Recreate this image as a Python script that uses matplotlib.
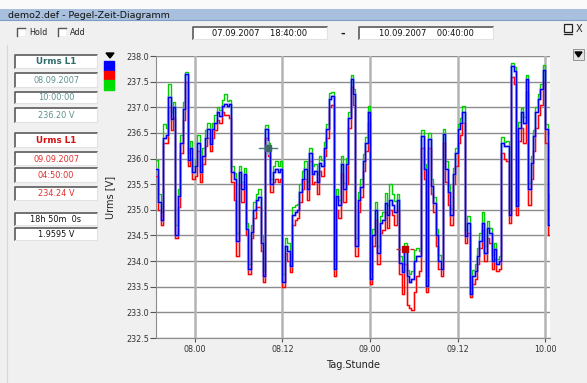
import datetime as dt
import numpy as np
import matplotlib
matplotlib.use("Agg")
import matplotlib.pyplot as plt
import matplotlib.dates as mdates
from matplotlib.patches import Rectangle, Polygon

# 20-minute samples from 07.09.2007 18:40 to 10.09.2007 00:40
start = dt.datetime(2007, 9, 7, 18, 40)
step = dt.timedelta(minutes=20)

urms_mean = [
    235.8, 235.15, 234.8, 236.4, 236.45, 237.2, 236.77, 237.0, 234.5, 235.27,
    236.3, 236.96, 237.64, 235.98, 236.2, 235.73, 235.86, 236.3, 235.73, 236.05,
    236.4, 236.57, 236.28, 236.57, 236.7, 236.9, 236.83, 237.03, 237.06, 237.03,
    237.06, 235.73, 235.6, 234.4, 235.73, 235.4, 235.7, 234.62, 233.84, 234.56,
    235.0, 235.2, 235.25, 234.36, 233.7, 236.57, 236.2, 235.5, 235.73, 235.8,
    235.73, 235.8, 233.6, 234.3, 234.2, 233.9, 234.9, 234.95, 235.0, 235.34,
    235.6, 235.8, 235.4, 236.1, 235.7, 235.75, 235.55, 235.92, 235.86, 236.2,
    236.57, 237.16, 237.22, 233.84, 235.27, 235.1, 235.9, 235.4, 235.9, 236.8,
    237.55, 237.25, 234.3, 235.2, 235.45, 235.95, 236.3, 236.9, 233.65, 234.5,
    235.0, 234.16, 234.75, 234.8, 235.14, 234.9, 235.2, 235.1, 234.95, 235.2,
    233.97, 233.78, 234.24, 233.7, 233.6, 233.65, 234.0, 234.1, 234.1, 236.44,
    235.8, 233.52, 236.38, 235.47, 235.14, 234.5, 234.0, 233.85, 236.47, 235.8,
    235.34, 234.9, 235.7, 236.1, 236.57, 236.7, 236.9, 234.49, 234.75, 233.35,
    233.7, 233.8, 234.1, 234.4, 234.75, 234.16, 234.65, 234.55, 234.0, 234.24,
    233.95, 234.0, 236.31, 236.25, 236.25, 234.9, 237.8, 237.7, 235.08, 236.6,
    236.9, 236.7, 237.55, 235.4, 235.92, 236.43, 236.9, 237.16, 237.35, 237.73,
    236.57, 234.7, 235.3]

urms_max = [
    235.97, 235.3, 234.95, 236.67, 236.6, 237.45, 236.9, 237.1, 234.7, 235.4,
    236.45, 237.1, 237.68, 236.1, 236.35, 235.85, 236.0, 236.45, 235.85, 236.2,
    236.55, 236.7, 236.4, 236.7, 236.85, 237.0, 236.95, 237.15, 237.25, 237.12,
    237.15, 235.85, 235.72, 234.55, 235.85, 235.55, 235.82, 234.75, 233.95, 234.7,
    235.15, 235.3, 235.4, 234.5, 233.82, 236.65, 236.3, 235.6, 235.85, 235.95,
    235.85, 235.95, 233.75, 234.45, 234.35, 234.02, 235.05, 235.1, 235.12, 235.5,
    235.75, 235.95, 235.55, 236.2, 235.85, 235.9, 235.7, 236.05, 235.98, 236.32,
    236.68, 237.28, 237.3, 234.05, 235.4, 235.2, 236.05, 235.52, 236.02, 236.9,
    237.62, 237.35, 234.45, 235.35, 235.6, 236.08, 236.42, 237.02, 233.8, 234.62,
    235.15, 234.3, 234.88, 234.95, 235.32, 235.1, 235.5, 235.3, 235.18, 235.3,
    234.1, 233.95, 234.35, 233.82, 233.75, 233.8, 234.22, 234.25, 234.2, 236.55,
    235.9, 233.7, 236.5, 235.6, 235.25, 234.62, 234.12, 234.0, 236.57, 235.95,
    235.48, 235.02, 235.82, 236.2, 236.68, 236.8, 237.02, 234.6, 234.88, 233.48,
    233.82, 233.95, 234.25, 234.55, 234.95, 234.3, 234.78, 234.65, 234.12, 234.35,
    234.05, 234.1, 236.42, 236.33, 236.35, 235.02, 237.87, 237.78, 235.2, 236.72,
    236.98, 236.82, 237.62, 235.52, 236.05, 236.55, 237.0, 237.25, 237.45, 237.82,
    236.68, 234.85, 235.42]

urms_min = [
    235.65, 235.0, 234.7, 236.3, 236.3, 237.0, 236.55, 236.8, 234.45, 235.05,
    236.1, 236.75, 237.5, 235.85, 236.0, 235.6, 235.65, 236.15, 235.55, 235.9,
    236.25, 236.4, 236.15, 236.4, 236.55, 236.75, 236.7, 236.9, 236.85, 236.85,
    236.8, 235.55, 235.2, 234.1, 235.5, 235.15, 235.5, 234.5, 233.75, 234.45,
    234.85, 235.05, 235.05, 234.2, 233.6, 236.4, 236.05, 235.35, 235.55, 235.6,
    235.55, 235.6, 233.5, 234.15, 234.0, 233.78, 234.7, 234.8, 234.85, 235.15,
    235.4, 235.6, 235.2, 235.95, 235.5, 235.55, 235.3, 235.75, 235.65, 236.05,
    236.4, 237.0, 237.05, 233.7, 235.0, 234.85, 235.7, 235.15, 235.5, 236.6,
    237.4, 237.05, 234.1, 234.95, 235.25, 235.75, 236.15, 236.7, 233.55, 234.3,
    234.8, 233.95, 234.55, 234.6, 234.95, 234.65, 235.0, 234.9, 234.7, 235.0,
    233.75, 233.35, 233.95, 233.15, 233.08, 233.05, 233.4, 233.7, 233.8, 236.2,
    235.6, 233.4, 236.2, 235.3, 234.95, 234.3, 233.85, 233.7, 236.3, 235.55,
    235.1, 234.7, 235.5, 235.85, 236.3, 236.45, 236.7, 234.35, 234.55, 233.3,
    233.55, 233.65, 233.95, 234.25, 234.6, 234.0, 234.45, 234.35, 233.85, 234.05,
    233.8, 233.85, 236.1, 236.0, 235.95, 234.75, 237.6, 237.45, 234.9, 236.35,
    236.6, 236.3, 237.3, 235.1, 235.6, 236.15, 236.6, 236.85, 237.05, 237.5,
    236.3, 234.5, 235.1]

times = [start + i * step for i in range(len(urms_mean))]
end = times[-1]

cursor_times = [dt.datetime(2007, 9, 8, 10, 0), dt.datetime(2007, 9, 9, 4, 50)]
cursor_values = [236.20, 234.24]
x_ticks = [dt.datetime(2007, 9, 8) + k * dt.timedelta(hours=12) for k in range(5)]
y_ticks = np.arange(232.5, 238.01, 0.5)

W, H = 587, 383
fig = plt.figure(figsize=(W / 100, H / 100), dpi=100, facecolor="#f0f0f0")

# ---- window chrome drawn in pixel coordinates
ui = fig.add_axes([0, 0, 1, 1], zorder=0)
ui.set_xlim(0, W)
ui.set_ylim(H, 0)
ui.axis("off")

ui.add_patch(Rectangle((0, 0), W, 9, facecolor="#fafafa", edgecolor="none"))
ui.add_patch(Rectangle((0, 9), W, 11, facecolor="#a8c0dd", edgecolor="none"))
ui.plot([0, W], [20, 20], color="#7f9cc4", lw=0.8)
ui.text(8, 15, "demo2.def - Pegel-Zeit-Diagramm", fontsize=6.8, va="center", color="#111")


def checkbox(x, label):
    ui.add_patch(Rectangle((x, 28), 8, 8, facecolor="white", edgecolor="none"))
    ui.plot([x, x, x + 8], [36, 28, 28], color="#555", lw=1)
    ui.text(x + 12, 32.5, label, fontsize=5.8, va="center", color="#222")


def field(x0, y0, x1, y1):
    ui.add_patch(Rectangle((x0, y0), x1 - x0, y1 - y0, facecolor="white", edgecolor="none"))
    ui.plot([x0, x0, x1], [y1, y0, y0], color="#5a5a5a", lw=1.2)
    ui.plot([x0, x1, x1], [y1, y1, y0], color="#e2e2e2", lw=0.8)


checkbox(17, "Hold")
checkbox(58, "Add")

field(193, 27, 327, 39)
ui.text(260, 33.5, "07.09.2007    18:40:00", fontsize=6, ha="center", va="center", color="#111")
ui.text(343, 33.5, "-", fontsize=8, ha="center", va="center", fontweight="bold", color="#111")
field(359, 27, 493, 39)
ui.text(426, 33.5, "10.09.2007    00:40:00", fontsize=6, ha="center", va="center", color="#111")

# close / maximise buttons
ui.add_patch(Rectangle((564, 24), 8, 8, facecolor="none", edgecolor="#222", lw=0.9))
ui.plot([564, 572], [33.5, 33.5], color="#222", lw=0.9)
ui.text(579, 28.5, "X", fontsize=7, ha="center", va="center", color="#222")

# dropdown button on the right
ui.add_patch(Rectangle((573, 49), 11, 11, facecolor="#e4e4e4", edgecolor="#888", lw=0.6))
ui.add_patch(Polygon([[575, 52], [582, 52], [578.5, 57]], closed=True, color="black"))

# left info panel
ui.plot([7, 7], [45, H], color="#d8d8d8", lw=0.8)
boxes = [(55, 68), (73, 87), (92, 103), (108, 122), (133, 147),
         (152, 165), (168, 182), (187, 200), (213, 225), (228, 240)]
labels = ["Urms L1", "08.09.2007", "10:00:00", "236.20 V",
          "Urms L1", "09.09.2007", "04:50:00", "234.24 V",
          "18h 50m  0s", "1.9595 V"]
colors = ["#2f6c6c", "#5f9090", "#5f9090", "#5f9090",
          "#d41010", "#e03030", "#e03030", "#e03030", "#111", "#111"]
weights = ["bold", "normal", "normal", "normal", "bold",
           "normal", "normal", "normal", "normal", "normal"]
for (y0, y1), lab, c, fw in zip(boxes, labels, colors, weights):
    field(15, y0, 97, y1)
    ui.text(56, (y0 + y1) / 2 + 0.5, lab, fontsize=6.3 if fw == "bold" else 5.9,
            ha="center", va="center", color=c, fontweight=fw)

ui.add_patch(Polygon([[106, 53], [114, 53], [110, 58]], closed=True, color="black"))
ui.add_patch(Rectangle((104, 61), 10, 9.5, color="#0000ff"))
ui.add_patch(Rectangle((104, 70.5), 10, 9.5, color="#ff0000"))
ui.add_patch(Rectangle((104, 80), 10, 10, color="#00dd00"))

# ---- the chart
ax = fig.add_axes([156 / W, 1 - 338 / H, (550 - 156) / W, (338 - 56) / H], zorder=1)
ax.set_facecolor("white")

for y in y_ticks:
    ax.axhline(y, color="#8c8c8c", lw=1.0, zorder=1)
for x in x_ticks:
    ax.axvline(x, color="#b4b4b4", lw=1.8, zorder=1)

ax.step(times, urms_min, where="post", color="#ff7a7a", lw=2.0, alpha=0.45, zorder=2)
ax.step(times, urms_max, where="post", color="#00d000", lw=1.0, zorder=3)
ax.step(times, urms_min, where="post", color="#ff0000", lw=0.9, zorder=4)
ax.step(times, urms_mean, where="post", color="#8080ff", lw=2.3, alpha=0.5, zorder=5)
ax.step(times, urms_mean, where="post", color="#0000ee", lw=1.0, zorder=6)

# cursors
half = dt.timedelta(minutes=75)
t0, v0 = cursor_times[0], cursor_values[0]
ax.plot([t0 - half, t0 + half], [v0, v0], color="#4f7f7f", lw=1, zorder=7)
ax.plot([t0, t0], [v0 - 0.12, v0 + 0.12], color="#9fb5b5", lw=1.5, zorder=7)
ax.plot([t0], [v0], marker="s", ms=4, color="#3d6868", zorder=8)
t1, v1 = cursor_times[1], cursor_values[1]
ax.plot([t1 - half, t1 + half], [v1, v1], color="#d02020", lw=1, ls=(0, (3, 2)), zorder=7)
ax.plot([t1], [v1], marker="s", ms=4, color="#c00000", zorder=8)

ax.set_xlim(start, end)
ax.set_ylim(232.5, 238.0)
ax.set_yticks(y_ticks)
ax.set_yticklabels([f"{v:.1f}" for v in y_ticks])
ax.set_xticks(x_ticks)
ax.xaxis.set_major_formatter(mdates.DateFormatter("%d.%H"))
ax.tick_params(axis="both", labelsize=5.8, labelcolor="#333", colors="#555", width=0.8)
ax.tick_params(axis="y", length=4, pad=1)
ax.tick_params(axis="x", length=3, pad=2)

for s in ["top", "right"]:
    ax.spines[s].set_visible(False)
ax.spines["left"].set_color("#8c8c8c")
ax.spines["bottom"].set_color("#8c8c8c")

ax.set_ylabel("Urms [V]", fontsize=7, color="#222", labelpad=8)
ax.set_xlabel("Tag.Stunde", fontsize=7, color="#222", labelpad=4)

fig.savefig("out.png", dpi=100, facecolor=fig.get_facecolor())
